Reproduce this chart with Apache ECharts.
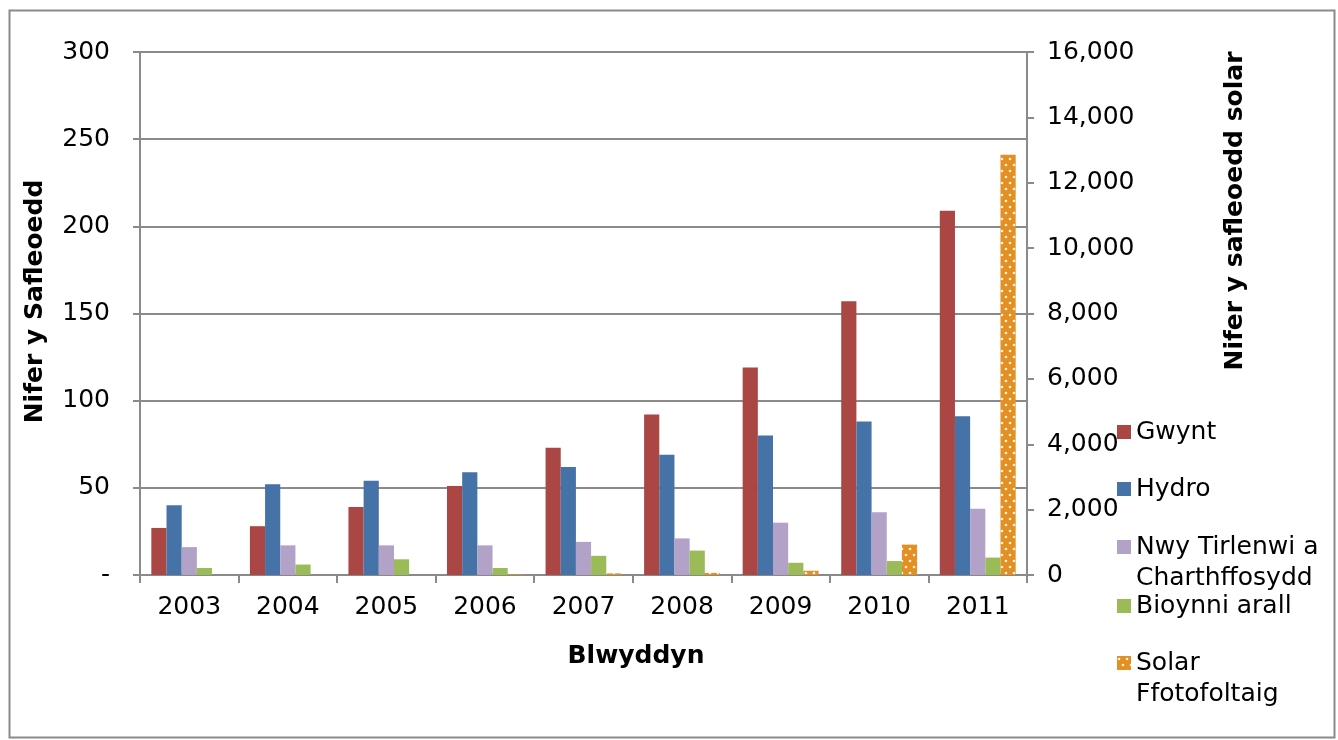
<!DOCTYPE html>
<html>
<head>
<meta charset="utf-8">
<title>Nifer y Safleoedd</title>
<script src="https://cdn.jsdelivr.net/npm/echarts@6/dist/echarts.min.js"></script>
<style>
  html, body { margin: 0; padding: 0; background: #fff; }
  #chart { width: 1338px; height: 740px; }
</style>
</head>
<body>
<div id="chart"></div>
<script>
// Years on the category axis
const years = ['2003', '2004', '2005', '2006', '2007', '2008', '2009', '2010', '2011'];

// Number of sites per technology (left axis)
const gwynt = [27, 28, 39, 51, 73, 92, 119, 157, 209];
const hydro = [40, 52, 54, 59, 62, 69, 80, 88, 91];
const nwyTirlenwi = [16, 17, 17, 17, 19, 21, 30, 36, 38];
const bioynniArall = [4, 6, 9, 4, 11, 14, 7, 8, 10];

// Solar PV sites (right axis)
const solar = [0, 0, 0, 20, 50, 65, 130, 930, 12860];

const seriesNames = ['Gwynt', 'Hydro', 'Nwy Tirlenwi a Charthffosydd', 'Bioynni arall', 'Solar Ffotofoltaig'];

// Legend labels broken over two lines; the leading blank line keeps the
// swatch level with the first line of text.
const legendLabels = {
  'Nwy Tirlenwi a Charthffosydd': '\nNwy Tirlenwi a\nCharthffosydd',
  'Solar Ffotofoltaig': '\nSolar\nFfotofoltaig'
};

const FONT = 'DejaVu Sans';
const GREY = '#8a8a8a';

// Dotted orange fill for the solar bars
function dotPattern() {
  const c = document.createElement('canvas');
  c.width = 8; c.height = 12;
  const ctx = c.getContext('2d');
  ctx.fillStyle = '#E38F22';
  ctx.fillRect(0, 0, 8, 12);
  ctx.fillStyle = 'rgba(255,255,255,0.9)';
  [[2, 3], [6, 9]].forEach(([x, y]) => {
    ctx.beginPath();
    ctx.arc(x, y, 1.3, 0, Math.PI * 2);
    ctx.fill();
  });
  return c;
}

const chart = echarts.init(document.getElementById('chart'), null, { renderer: 'canvas' });

function legendAt(name, top) {
  return {
    data: [name],
    left: 1117,
    top: top,
    orient: 'vertical',
    padding: 0,
    itemWidth: 14,
    itemHeight: 14,
    icon: 'rect',
    selectedMode: false,
    formatter: n => legendLabels[n] || n,
    textStyle: { fontFamily: FONT, fontSize: 25, color: '#000', lineHeight: 31 }
  };
}

const barCommon = {
  type: 'bar',
  barGap: 0,
  barCategoryGap: '23%'
};

const option = {
  animation: false,
  backgroundColor: '#fff',
  textStyle: { fontFamily: FONT },
  grid: { left: 140, right: 311, top: 52, bottom: 165, containLabel: false },
  legend: [
    legendAt('Gwynt', 416.5),
    legendAt('Hydro', 473.5),
    legendAt('Nwy Tirlenwi a Charthffosydd', 500.5),
    legendAt('Bioynni arall', 590.5),
    legendAt('Solar Ffotofoltaig', 616.5)
  ],
  xAxis: {
    type: 'category',
    data: years,
    name: 'Blwyddyn',
    nameLocation: 'middle',
    nameGap: 69,
    nameTextStyle: { fontFamily: FONT, fontSize: 25, fontWeight: 'bold', color: '#000', padding: [0, 0, 0, 105] },
    axisLine: { lineStyle: { color: GREY, width: 2 } },
    axisTick: { show: true, length: 8, lineStyle: { color: GREY, width: 2 } },
    axisLabel: { fontFamily: FONT, fontSize: 25, color: '#000', margin: 20 }
  },
  yAxis: [
    {
      type: 'value',
      min: 0, max: 300, interval: 50,
      name: 'Nifer y Safleoedd',
      nameLocation: 'middle',
      nameGap: 92,
      nameTextStyle: { fontFamily: FONT, fontSize: 25, fontWeight: 'bold', color: '#000', padding: [0, 0, 0, 24] },
      axisLine: { show: true, lineStyle: { color: GREY, width: 2 } },
      axisTick: { show: true, length: 7, lineStyle: { color: GREY, width: 2 } },
      axisLabel: {
        fontFamily: FONT, fontSize: 25, color: '#000', margin: 30,
        formatter: v => v === 0 ? '-' : String(v)
      },
      splitLine: { show: true, lineStyle: { color: GREY, width: 2 } }
    },
    {
      type: 'value',
      min: 0, max: 16000, interval: 2000,
      position: 'right',
      axisLine: { show: true, lineStyle: { color: GREY, width: 2 } },
      axisTick: { show: true, length: 7, lineStyle: { color: GREY, width: 2 } },
      axisLabel: {
        fontFamily: FONT, fontSize: 25, color: '#000', margin: 20,
        formatter: v => v.toLocaleString('en-US')
      },
      splitLine: { show: false }
    }
  ],
  series: [
    Object.assign({}, barCommon, { name: seriesNames[0], data: gwynt, yAxisIndex: 0, itemStyle: { color: '#AA4643' } }),
    Object.assign({}, barCommon, { name: seriesNames[1], data: hydro, yAxisIndex: 0, itemStyle: { color: '#4572A7' } }),
    Object.assign({}, barCommon, { name: seriesNames[2], data: nwyTirlenwi, yAxisIndex: 0, itemStyle: { color: '#B2A2C8' } }),
    Object.assign({}, barCommon, { name: seriesNames[3], data: bioynniArall, yAxisIndex: 0, itemStyle: { color: '#9BBB59' } }),
    Object.assign({}, barCommon, { name: seriesNames[4], data: solar, yAxisIndex: 1, itemStyle: { color: { image: dotPattern(), repeat: 'repeat' } } })
  ],
  graphic: [
    {
      type: 'rect',
      left: 7, top: 8,
      shape: { width: 1325, height: 727 },
      style: { fill: 'none', stroke: GREY, lineWidth: 2 },
      silent: true
    },
    {
      type: 'text',
      x: 1235, y: 211,
      rotation: Math.PI / 2,
      style: {
        text: 'Nifer y safleoedd solar',
        font: 'bold 25px "DejaVu Sans"',
        fill: '#000',
        align: 'center',
        verticalAlign: 'middle'
      },
      silent: true
    }
  ]
};

chart.setOption(option);
</script>
</body>
</html>
